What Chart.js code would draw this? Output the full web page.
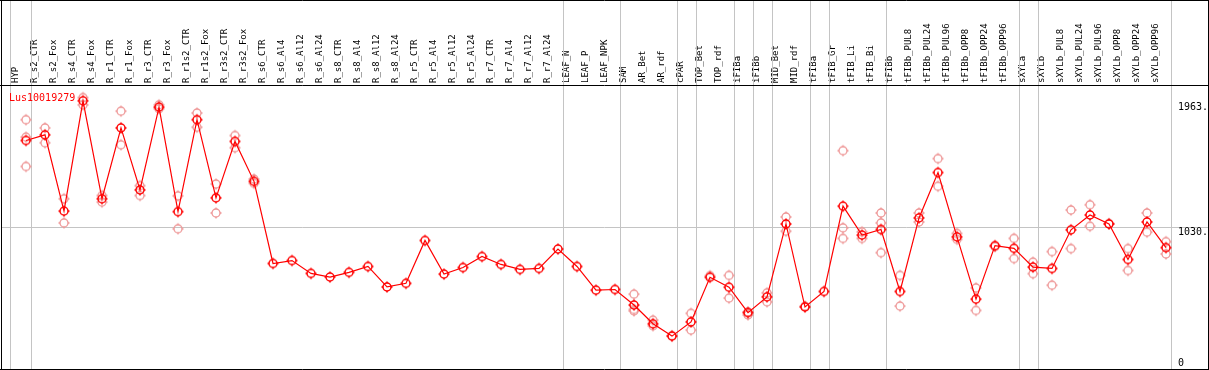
<!DOCTYPE html>
<html>
<head>
<meta charset="utf-8">
<script src="https://cdn.jsdelivr.net/npm/chart.js@4/dist/chart.umd.min.js"></script>
<style>
html, body { margin: 0; padding: 0; background: #fff; }
#wrap { width: 1209px; height: 370px; }
</style>
</head>
<body>
<div id="wrap"><canvas id="myChart1" width="1209" height="370"></canvas></div>
<script>
// sample names along the top
const Labels1 = ['HYP','R_s2_CTR','R_s2_Fox','R_s4_CTR','R_s4_Fox','R_r1_CTR','R_r1_Fox','R_r3_CTR','R_r3_Fox','R_r1s2_CTR',
  'R_r1s2_Fox','R_r3s2_CTR','R_r3s2_Fox','R_s6_CTR','R_s6_Al4','R_s6_Al12','R_s6_Al24','R_s8_CTR','R_s8_Al4','R_s8_Al12',
  'R_s8_Al24','R_r5_CTR','R_r5_Al4','R_r5_Al12','R_r5_Al24','R_r7_CTR','R_r7_Al4','R_r7_Al12','R_r7_Al24','LEAF_N',
  'LEAF_P','LEAF_NPK','SAM','AR_Bet','AR_rdf','cPAR','TOP_Bet','TOP_rdf','iFIBa','iFIBb',
  'MID_Bet','MID_rdf','tFIBa','tFIB_Gr','tFIB_Li','tFIB_Bi','tFIBb','tFIBb_PUL8','tFIBb_PUL24','tFIBb_PUL96',
  'tFIBb_OPP8','tFIBb_OPP24','tFIBb_OPP96','sXYLa','sXYLb','sXYLb_PUL8','sXYLb_PUL24','sXYLb_PUL96','sXYLb_OPP8','sXYLb_OPP24',
  'sXYLb_OPP96'];

// mean expression (the red line)
const MeanValues = [1674,1716,1147,1970,1239,1768,1305,1923,1143,1829,
  1246,1667,1369,756,778,682,655,690,734,581,
  608,928,677,726,808,749,712,719,864,734,
  557,562,446,306,214,320,653,579,389,507,
  1051,431,547,1184,968,1010,547,1096,1435,955,
  490,889,869,729,719,1007,1118,1051,786,1066,
  874];

// replicates (pale circles)
const Rep1 = [1829,1768,1239,1994,1263,1893,1337,1940,1261,1879,
  1349,1711,1386,null,null,null,null,null,null,null,
  null,null,null,null,null,null,null,null,null,null,
  null,null,527,333,217,384,665,667,394,537,
  1103,438,null,1598,992,1133,667,1133,1539,980,
  574,882,943,766,845,1155,1194,1054,867,1133,
  919];
const Rep2 = [1699,1657,1059,1940,1214,1642,1263,1911,1015,1773,
  1133,1620,1354,null,null,null,null,null,null,null,
  null,null,null,null,null,null,null,null,null,null,
  null,null,413,291,null,259,null,498,372,470,
  997,null,null,1022,943,1059,438,1066,1332,936,
  406,null,793,680,594,867,1034,null,704,990,
  827];
const Rep3 = [1480,null,null,null,null,null,null,null,null,null,
  null,null,null,null,null,null,null,null,null,null,
  null,null,null,null,null,null,null,null,null,null,
  null,null,402,null,null,null,null,null,null,null,
  null,null,null,943,null,837,null,null,null,null,
  null,null,null,null,null,null,null,null,null,null,
  null];

const YTicks = [0, 1030, 1963];
const GridValue = 1030;
const GroupEnds = [-1,0,28,31,34,35,37,38,39,41,42,45,52,53,60];
const GeneName = 'Lus10019279';

function makeMarker(color, lw) {
  const c = document.createElement('canvas');
  c.width = 14; c.height = 14;
  const g = c.getContext('2d');
  g.strokeStyle = color;
  g.lineWidth = lw;
  g.beginPath(); g.arc(7, 7, 4, 0, Math.PI * 2); g.stroke();
  g.beginPath();
  g.moveTo(7, 1.5); g.lineTo(7, 3);
  g.moveTo(7, 11); g.lineTo(7, 12.5);
  g.moveTo(1.5, 7); g.lineTo(3, 7);
  g.moveTo(11, 7); g.lineTo(12.5, 7);
  g.stroke();
  return c;
}
const mainMarker = makeMarker('#ff0000', 1.5);
const paleMarker = makeMarker('rgb(238,150,150)', 1.3);

// separators, frame, gene name and value labels
const framePlugin = {
  id: 'frame',
  beforeDatasetsDraw(chart) {
    const ctx = chart.ctx;
    const xs = chart.scales.x, ys = chart.scales.y;
    const step = xs.getPixelForValue(1) - xs.getPixelForValue(0);
    ctx.save();
    ctx.strokeStyle = '#c4c4c4';
    ctx.lineWidth = 1;
    ctx.beginPath();
    GroupEnds.forEach(function (i) {
      let x = Math.round(xs.getPixelForValue(0) + step * i + 4.5) + 0.5;
      if (i < 0) x -= 2;
      ctx.moveTo(x, 0); ctx.lineTo(x, 369);
    });
    const gy = Math.round(ys.getPixelForValue(GridValue)) + 0.5;
    ctx.moveTo(1, gy); ctx.lineTo(1208, gy);
    ctx.stroke();
    ctx.strokeStyle = '#000';
    ctx.beginPath();
    ctx.moveTo(0, 0.5); ctx.lineTo(1209, 0.5);
    ctx.moveTo(1.5, 0); ctx.lineTo(1.5, 370);
    ctx.moveTo(1208.5, 0); ctx.lineTo(1208.5, 370);
    ctx.moveTo(0, 85.5); ctx.lineTo(1209, 85.5);
    ctx.moveTo(0, 369.5); ctx.lineTo(1209, 369.5);
    ctx.stroke();
    ctx.restore();
  },
  afterDatasetsDraw(chart) {
    const ctx = chart.ctx;
    const ys = chart.scales.y;
    ctx.save();
    ctx.font = '10px "DejaVu Sans Mono"';
    ctx.textAlign = 'left';
    ctx.textBaseline = 'alphabetic';
    ctx.fillStyle = '#ff0000';
    ctx.fillText(GeneName, 9, 100.5);
    ctx.fillStyle = '#000';
    YTicks.forEach(function (v) {
      const y = Math.min(ys.getPixelForValue(v) + 8, 365.5);
      ctx.fillText(v === 0 ? '0' : v + '.', 1178, y);
    });
    ctx.restore();
  }
};

const ctx1 = document.getElementById('myChart1').getContext('2d');
const config = {
  type: 'line',
  data: {
    labels: Labels1,
    datasets: [{
      label: 'mean',
      data: MeanValues,
      borderColor: '#ff0000',
      borderWidth: 1.2,
      pointStyle: mainMarker,
      pointRadius: 4,
      tension: 0
    }, {
      label: 'rep1',
      data: Rep1,
      showLine: false,
      pointStyle: paleMarker,
      pointRadius: 4
    }, {
      label: 'rep2',
      data: Rep2,
      showLine: false,
      pointStyle: paleMarker,
      pointRadius: 4
    }, {
      label: 'rep3',
      data: Rep3,
      showLine: false,
      pointStyle: paleMarker,
      pointRadius: 4
    }]
  },
  options: {
    responsive: false,
    animation: false,
    devicePixelRatio: 1,
    layout: { padding: { left: 16.5, right: 33.5, top: 0, bottom: 2.3 } },
    plugins: { legend: { display: false }, tooltip: { enabled: false } },
    scales: {
      x: {
        type: 'category',
        position: 'top',
        offset: true,
        grid: { display: false, drawTicks: false },
        border: { display: false },
        ticks: {
          autoSkip: false,
          minRotation: 90,
          maxRotation: 90,
          padding: 2,
          color: '#000',
          font: { family: 'DejaVu Sans Mono', size: 9 }
        },
        afterFit: function (scale) { scale.height = 85; }
      },
      y: {
        display: false,
        min: 0,
        max: 2088
      }
    }
  },
  plugins: [framePlugin]
};
const myChart1 = new Chart(ctx1, config);
</script>
</body>
</html>
